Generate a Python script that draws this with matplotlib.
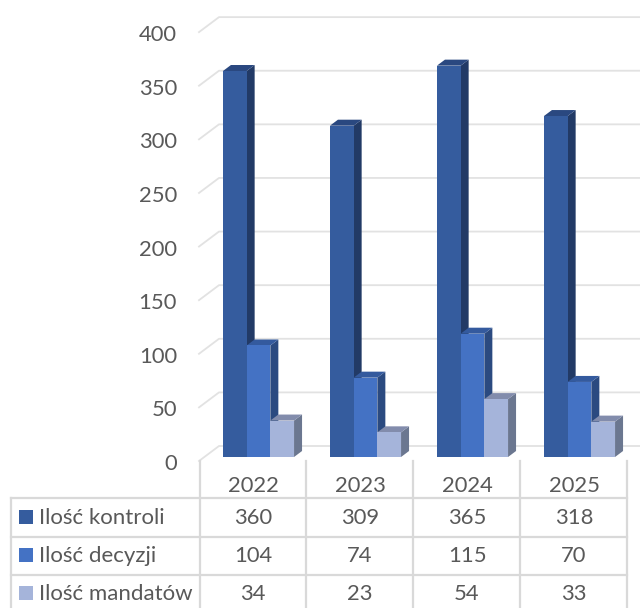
import matplotlib
matplotlib.use("Agg")
import matplotlib.pyplot as plt
from matplotlib.patches import Polygon

plt.rcParams['font.family'] = ['Lato', 'DejaVu Sans']

years = ["2022", "2023", "2024", "2025"]
series_names = ["Ilość kontroli", "Ilość decyzji", "Ilość mandatów"]
kontrole = [360, 309, 365, 318]
decyzje = [104, 74, 115, 70]
mandaty = [34, 23, 54, 33]
series = [kontrole, decyzje, mandaty]
yticks = [0, 50, 100, 150, 200, 250, 300, 350, 400]

front_colors = ["#355c9e", "#4472c4", "#a5b4da"]
side_colors = ["#223a66", "#2b4a80", "#6b7790"]
top_colors = ["#2a4880", "#345a9e", "#828cac"]
grid_color = "#e2e2e2"
table_color = "#d9d9d9"
text_color = "#595959"

W, H = 640, 608
X0 = 253      # pixel centre of first category
CAT = 107     # pixels per category
Y0 = 457      # pixel of value 0 on the bars
PXV = 1.0722  # pixels per value unit


# helpers, data units from pixel distances
def dx(px):
    return px / CAT


def dy(px):
    return px / PXV


fig = plt.figure(figsize=(6.4, 6.08), dpi=100)
ax = fig.add_axes([0, 0, 1, 1])
ax.set_xlim(-X0 / CAT, (W - X0) / CAT)
ax.set_ylim(-(H - Y0) / PXV, Y0 / PXV)
ax.axis("off")


def xp(px):
    return (px - X0) / CAT


def yp(px):
    return (Y0 - px) / PXV


# back wall grid lines with the slanted floor part
for v in yticks:
    yf = v + dy(-4)
    yb = yf + dy(15)
    ax.plot([xp(199), xp(219), xp(640)], [yf, yb, yb], color=grid_color, lw=1.3, zorder=1)
    ax.text(xp(177), yf + dy(-3), str(v), ha="right", va="center", fontsize=15.8, color=text_color)

# 3D bars
bar_w = 23.7 / CAT
depth_x = dx(8)
depth_y = dy(6)
for s, values in enumerate(series):
    for i, v in enumerate(values):
        left = i + dx(5.5) + (s - 1.5) * bar_w
        z = 3 + i * 3 + s
        ax.bar(left, v, bar_w, align="edge", color=front_colors[s], zorder=z + 0.2)
        ax.add_patch(Polygon([(left + bar_w, 0), (left + bar_w + depth_x, depth_y),
                              (left + bar_w + depth_x, v + depth_y), (left + bar_w, v)],
                             color=side_colors[s], lw=0, zorder=z))
        ax.add_patch(Polygon([(left, v), (left + depth_x, v + depth_y),
                              (left + bar_w + depth_x, v + depth_y), (left + bar_w, v)],
                             color=top_colors[s], lw=0, zorder=z))

# data table
col_lines = [199.5, 306, 413, 520, 627]
row_lines = [498, 537, 575, 614]
for px in col_lines:
    ax.plot([xp(px), xp(px)], [yp(461), yp(608)], color=table_color, lw=1.6, zorder=30)
ax.plot([xp(11.5), xp(11.5)], [yp(498), yp(608)], color=table_color, lw=1.6, zorder=30)
for py in row_lines:
    ax.plot([xp(11.5), xp(627)], [yp(py), yp(py)], color=table_color, lw=1.6, zorder=30)

for i, year in enumerate(years):
    ax.text(i, yp(486), year, ha="center", va="center", fontsize=15.8, color=text_color)

row_centers = [518, 556, 594]
for s, name in enumerate(series_names):
    ax.add_patch(Polygon([(xp(19), yp(row_centers[s] - 8)), (xp(33), yp(row_centers[s] - 8)),
                          (xp(33), yp(row_centers[s] + 6)), (xp(19), yp(row_centers[s] + 6))],
                         color=front_colors[s], lw=0, zorder=31))
    ax.text(xp(39), yp(row_centers[s]), name, ha="left", va="center", fontsize=16, color=text_color)
    for i, v in enumerate(series[s]):
        ax.text(i, yp(row_centers[s]), str(v), ha="center", va="center", fontsize=15.8, color=text_color)

fig.savefig("out.png", dpi=100)
